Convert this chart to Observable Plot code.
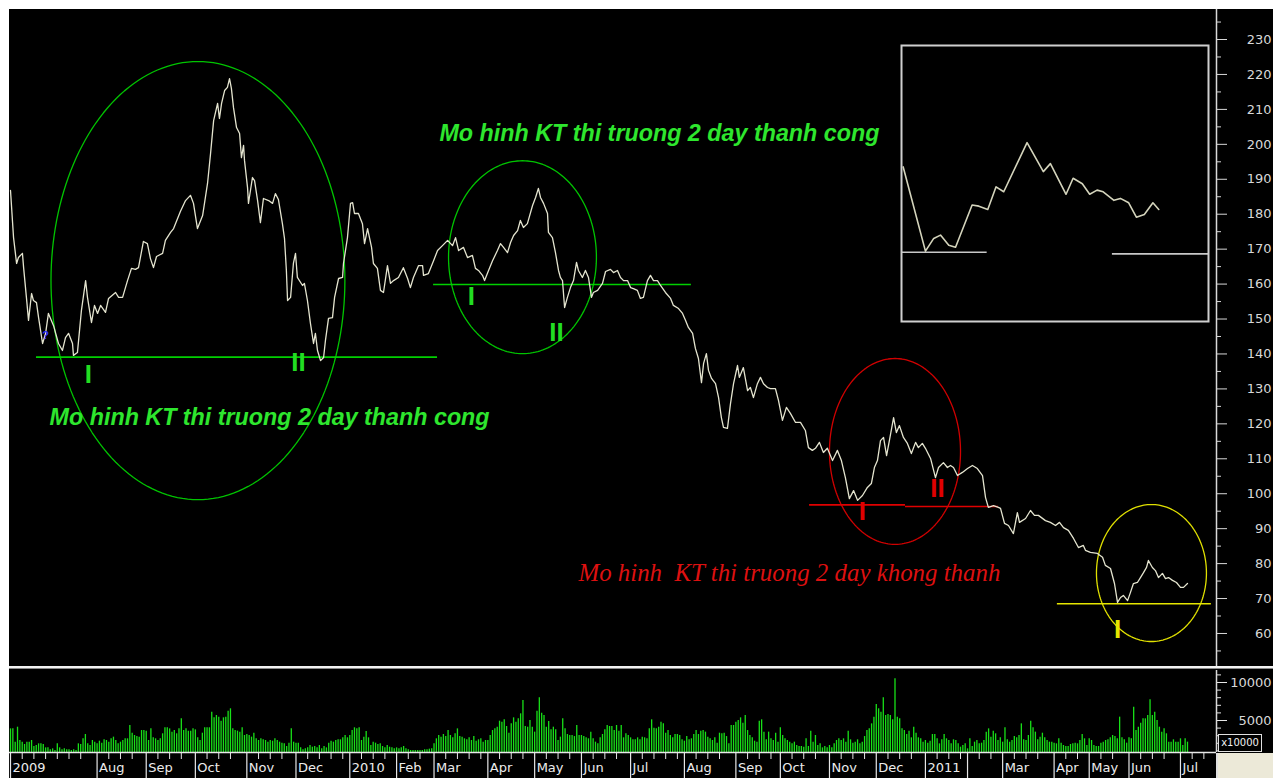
<!DOCTYPE html>
<html><head><meta charset="utf-8">
<script src="https://cdn.jsdelivr.net/npm/d3@7"></script>
<script src="https://cdn.jsdelivr.net/npm/@observablehq/plot@0.6"></script>
<style>
html,body{margin:0;padding:0;background:#fff;overflow:hidden;}
#wrap{position:relative;width:1273px;height:778px;background:#fff;overflow:hidden;}
#wrap > *{position:absolute;}
</style></head><body><div id="wrap"></div>
<script>
// ---------- DATA ----------
// trading-day index of each price vertex and its value
const priceDay = [
0,1.3,2.6,3.4,5.1,5.6,6.8,7.7,9.0,9.8,
11.1,12.0,13.7,15.0,16.2,18.4,20.5,22.2,23.5,24.8,
26.5,26.9,28.6,30.3,32.1,32.9,34.6,35.9,37.2,38.5,
40.6,41.9,44.9,46.2,47.9,50.0,51.7,53.4,54.7,56.8,
58.5,59.8,61.1,62.4,65.0,66.2,68.4,69.7,72.6,74.8,
76.9,78.2,79.9,82.1,84.2,85.5,86.8,88.5,89.3,90.2,
91.5,92.7,93.6,94.4,95.3,96.6,97.9,98.7,99.6,100.0,
101.3,101.7,103.4,104.3,105.6,106.8,108.1,110.3,112.0,113.2,
114.5,116.2,117.1,117.9,118.4,119.7,120.9,121.8,122.6,124.8,
125.6,126.9,128.2,129.5,130.3,131.2,132.5,133.8,134.6,135.9,
137.6,138.5,140.2,141.9,142.3,144.0,145.3,146.2,147.0,148.7,
150.4,151.3,152.6,154.3,155.1,156.8,158.1,159.4,161.1,162.4,
163.7,165.8,167.9,169.7,170.9,172.2,174.4,176.1,176.5,178.6,
180.8,182.5,184.6,186.8,188.9,190.2,191.5,193.6,195.3,197.4,
198.7,200.0,201.7,202.6,204.3,206.0,208.1,209.4,210.7,212.4,
213.7,215.0,216.7,217.9,219.2,220.9,223.1,224.4,225.6,226.5,
227.8,229.5,229.9,231.6,232.9,234.2,235.0,235.9,236.8,238.0,
239.3,240.6,241.9,242.7,244.4,245.7,247.0,248.3,249.1,250.9,
253.0,254.3,256.4,257.7,259.4,260.7,262.0,263.7,265.0,266.2,
267.9,269.2,270.5,272.2,273.5,274.8,276.5,277.8,279.9,282.1,
283.3,285.5,287.2,288.5,289.7,291.5,292.7,294.0,295.3,296.2,
297.4,298.3,299.6,301.3,302.6,303.8,304.7,306.4,307.7,309.0,
310.7,311.5,313.2,315.0,316.2,317.5,319.2,320.5,321.8,323.5,
324.8,326.9,328.2,329.9,331.6,333.3,335.5,337.6,339.7,341.0,
342.7,344.0,345.7,347.4,349.1,351.3,353.4,355.1,356.8,358.5,
360.3,362.0,364.1,366.2,367.9,369.2,370.5,371.8,373.1,374.4,
375.6,377.4,378.6,379.9,381.6,383.3,385.0,386.8,388.0,389.7,
391.0,393.2,395.3,396.6,398.7,400.4,401.7,403.0,404.7,406.8,
409.0,411.1,413.2,415.4,416.7,417.9,420.1,422.2,423.1,424.8,
426.5,428.6,430.3,431.2,433.8,435.9,437.6,439.3,442.3,444.4,
446.6,448.3,450.0,452.1,454.3,456.4,458.5,459.4,461.5,464.5,
466.7,467.9,470.1,471.8,473.1,474.4,475.6,477.4,478.6,479.9,
481.6,482.9,484.2,485.5,486.3,488.0,489.3,490.6,492.3,493.6,
494.9,496.6,498.3,500.0,501.3,503.0];
const priceClose = [
186.8,173.3,165.9,167.6,168.8,164.7,156.2,149.6,157.3,155.3,
154.7,150.4,143.0,145.9,151.6,148.1,143.0,141.0,144.7,145.9,
143.0,139.6,140.4,152.4,161.0,156.2,149.0,153.9,151.6,153.9,
151.9,155.9,157.6,156.2,156.2,161.0,164.5,164.2,164.7,172.2,
171.6,167.3,164.7,167.9,168.8,172.5,174.8,175.9,180.8,183.9,
185.4,183.1,175.9,179.6,188.8,197.4,206.8,211.7,207.4,211.7,
215.4,216.3,218.8,216.0,210.5,204.8,203.1,196.2,199.7,195.4,
187.6,183.1,190.5,189.6,183.9,177.6,184.5,183.9,183.1,185.9,
184.2,177.3,173.0,163.9,155.3,156.2,165.9,168.8,161.9,159.6,
160.2,155.3,148.7,143.0,145.9,141.0,138.1,139.0,143.9,150.2,
150.4,156.2,161.6,161.9,165.9,173.3,183.1,183.3,180.2,180.2,
177.3,171.6,175.9,170.5,165.9,164.5,158.2,157.6,165.3,160.2,
161.0,161.9,164.7,161.6,159.0,161.9,165.3,165.3,162.5,163.0,
166.7,169.6,171.0,172.5,171.0,173.3,169.6,170.5,167.6,168.2,
164.5,163.9,162.5,161.0,163.9,166.7,169.6,171.6,170.5,169.0,
171.9,173.9,175.3,178.2,176.2,177.3,182.5,184.8,187.4,184.8,
183.1,180.2,174.8,173.3,169.0,163.9,161.9,161.0,153.3,156.2,
159.0,161.0,166.2,163.9,161.9,163.9,161.9,156.2,157.6,158.2,
160.2,163.6,164.2,163.3,163.9,161.9,161.0,161.0,159.0,158.7,
158.2,155.9,156.2,161.0,162.5,161.0,161.0,159.6,157.6,155.9,
153.9,153.0,151.6,149.6,147.6,145.9,141.6,138.7,131.8,137.3,
140.1,135.3,133.0,131.5,127.5,121.8,119.0,118.7,125.8,131.5,
136.7,133.3,136.1,129.5,130.4,127.5,131.5,133.3,131.5,130.4,
130.1,130.1,126.7,121.0,124.7,123.0,120.4,120.4,118.1,113.2,
112.4,113.0,114.7,111.8,113.0,109.5,112.4,109.5,104.6,98.6,
100.9,98.1,99.5,101.8,102.9,107.5,109.5,115.2,116.1,110.9,
115.2,121.8,117.5,119.5,116.1,114.4,111.5,114.7,113.2,114.4,
113.0,110.1,104.6,107.5,108.9,107.5,108.1,107.5,105.2,106.1,
107.2,108.1,107.2,105.2,98.9,96.1,96.6,96.1,95.8,91.5,
90.9,88.6,94.6,91.8,92.9,95.2,93.8,93.8,92.3,91.8,
90.9,91.8,90.3,89.5,87.2,84.6,85.2,83.8,83.2,82.9,
81.8,79.5,78.6,74.3,68.9,70.3,70.9,69.4,71.7,74.3,
74.6,76.0,77.4,78.9,80.9,78.9,78.0,76.0,77.2,75.7,
76.0,75.2,74.6,73.2,73.2,74.3];

// daily volume (x10000), one array per month
const volJul09 = [3900,3900,2150,4120,2370,2150,1840,2150,2150,2370,1580,1710,1930,1930,1840,1400,1400,1140,1270,1050,1930,1400,1140,1270,1140,1140,1050,1140,1050,1930,1840,2590,3160,1930,1710,2370,2150];
const volAug09 = [1930,2280,2020,2460,2370,2150,2590,2810,2370,1930,2150,2370,2590,2590,4340,3330,3030,2890,2810,3680,3680];
const volSep09 = [3600,2370,3900,2720,2590,2370,2590,3250,4040,4040,3900,3470,3680,3250,3900,5220,3680,3900,3600,3600,3900];
const volOct09 = [3770,2720,2370,3330,4040,4040,4040,6100,5350,5660,5440,4910,5350,5440,6230,6540,3900,3680,3600,3470,4040,3030];
const volNov09 = [3160,3030,2810,3330,2590,2370,2590,2460,2370,2150,2370,2280,2590,2370,2150,2020,1930,1580,2020,3900,2150];
const volDec09 = [2020,2020,1400,1140,1270,1400,1710,1490,1580,1400,1710,1270,1580,1400,2020,2280,2150,2370,2460,2460,2720,3030,2720];
const volJan10 = [3030,3680,4040,3900,4040,2370,2810,3550,2720,1710,2150,2020,1840,1930,1580,1400,1710,1490,1400,1270];
const volFeb10 = [1400,1270,1400,1580,1270,1140,1050,1050,1050,1050,1050,1050,1140,1140,1230,1270];
const volMar10 = [1930,2590,3030,2810,3160,2890,3680,3030,2720,3250,3900,2890,2810,2590,2460,2720,2370,2890,2280,2460,2590,2150,2370];
const volApr10 = [2370,3030,3680,3900,4120,4910,4780,5090,4210,3330,4560,5350,4780,5220,5880,7630,4210,4120,5000,4120];
const volMay10 = [3470,6230,7980,5970,5660,4120,4870,3770,4120,3770,2370,2810,5220,3900,3160,3030,3030,2890,4340,3030];
const volJun10 = [3030,2890,2720,2590,3470,2590,2150,1930,2720,3160,3770,4340,4210,4210,3680,4340,3600,4340,2720,3250,3030];
const volJul10 = [2720,2460,2460,2720,2460,2810,2720,2590,3900,5090,3990,3900,4120,4780,4560,3330,3680,3030,2720,3160,3160,3030,2460];
const volAug10 = [2280,2890,2460,2590,3160,3680,3160,3600,3680,3470,2810,2590,2370,2720,2020,3330,3250,3330,2890,1930,4340,4340];
const volSep10 = [4780,5000,5350,4650,5660,3680,3030,2720,2280,2150,4910,5090,3470,2460,3470,2590,2370,3330,2150];
const volOct10 = [4040,3030,2590,2370,2150,1930,2150,1710,1580,1580,1490,2590,1580,3600,2150,3030,1710,1930,1400,1580,1400];
const volNov10 = [1710,1400,1930,2370,2590,2370,2590,2150,3600,2460,2020,2150,2460,1930,2150,2890,3680,3900,4560,5440];
const volDec10 = [7110,6540,6100,7980,5660,5790,5660,5090,10480,5440,5220,3900,3680,3160,3600,2720,4120,3330,2720,2590,2150];
const volJan11 = [2370,2020,2280,3160,3160,2590,1930,2460,3160,2590,2370,1930,2460,2370,1930,1490,1710,1930];
const volFeb11 = [1270,2590,1580,2150,2370,1930,2020,2370,3470,3900,2810,3600,3250,2370,2720];
const volMar11 = [2150,4040,2460,2150,2370,2890,2720,3030,4560,2460,2370,3030,4910,4040,3470,2460,2810,3330,2720,2370,2150,2150];
const volApr11 = [2020,1930,2590,2020,1710,1580,1580,1840,1930,2020,1930,2370,3160,2590,1710];
const volMay11 = [2590,2370,1710,1580,1580,2020,2150,2370,2460,2720,3030,2890,2590,5440,2720,2460,2020];
const volJun11 = [2720,2590,6760,3680,4120,4650,5220,5220,5660,7720,5660,6100,5000,4120,3470,3900,3250,2150,2150,2460,2150,2150];
const volJul11 = [2590,1710,2590,2150];

// month boundaries (trading-day index) and labels
const monthStart = [0,37,58,79,101,122,145,165,181,204,224,244,265,288,310,329,350,370,391,409,424,446,461,478,500];
const monthLabel = ["2009","Aug","Sep","Oct","Nov","Dec","2010","Feb","Mar","Apr","May","Jun","Jul","Aug","Sep","Oct","Nov","Dec","2011","","Mar","Apr","May","Jun","Jul"];

// axes ticks
const priceMajor = [60,70,80,90,100,110,120,130,140,150,160,170,180,190,200,210,220,230];
const priceMinor = [55,65,75,85,95,105,115,125,135,145,155,165,175,185,195,205,215,225,235];
const volMajor = [5000,10000];
const volMinor = [1000,2000,3000,4000,6000,7000,8000,9000,11000];

// annotations: ellipses (center day, center price, radius days, radius price)
const ellCx = [80.1,218.8,378.0,487.6];
const ellCy = [161.0,167.7,112.1,77.3];
const ellRx = [62.8,31.6,28.0,23.5];
const ellRy = [62.7,27.6,26.6,19.6];
const ellColor = ["#00c400","#00c400","#d00000","#e0e000"];

// support lines
const supY = [139.1,159.9,96.8,96.35,68.5];
const supX1 = [11.1,180.8,341.5,382.5,447.4];
const supX2 = [182.5,291.0,382.5,422.2,513.2];
const supColor = ["#00d000","#00d000","#e00000","#e00000","#e6e600"];

// bottom markers
const markText = ["I","II","I","II","I","II","I"];
const markDay = [33.3,123.1,197.0,233.3,364.1,396.2,473.1];
const markPrice = [134.1,137.5,156.4,146.1,94.9,101.5,61.0];
const markColor = ["#22dd22","#22dd22","#22dd22","#22dd22","#e00000","#e00000","#e6e600"];

// captions
const capText = ["Mo hinh KT thi truong 2 day thanh cong","Mo hinh KT thi truong 2 day thanh cong","Mo hinh \u00a0KT thi truong 2 day khong thanh"];
const capDay = [16.7,183.3,242.7];
const capPrice = [121.8,203.1,77.4];

// inset pattern
const insetX = [0.55,7.8,10.5,12.7,15.4,17.6,23.0,25.2,28.1,30.8,33.3,40.9,46.2,48.5,53.6,55.9,58.9,61.3,63.7,65.7,69.2,71.3,74.0,76.5,79.1,81.9,83.8];
const insetY = [56.0,25.5,30.1,31.3,27.6,26.9,42.2,41.8,40.6,48.8,47.0,64.8,54.3,57.2,46.1,51.9,49.9,46.1,47.6,47.0,43.9,44.6,43.0,37.8,38.8,43.0,40.6];
const insetLineY = [25.1,24.5];
const insetLineX1 = [0,68.7];
const insetLineX2 = [27.9,100];

// ---------- BUILD ----------
const xDomain = [-0.43, 515.4];
const priceDomain = [50.55, 238.59];
const volDomain = [790, 11579];

const priceData = priceDay.map((d, i) => ({day: d, close: priceClose[i]}));
const volume = [].concat(volJul09,volAug09,volSep09,volOct09,volNov09,volDec09,volJan10,volFeb10,volMar10,volApr10,volMay10,volJun10,volJul10,volAug10,volSep10,volOct10,volNov10,volDec10,volJan11,volFeb11,volMar11,volApr11,volMay11,volJun11,volJul11);
const volData = volume.map((v, i) => ({day: i, vol: v}));

const weekTicks = [];
monthStart.forEach((m, i) => {
  const next = i + 1 < monthStart.length ? monthStart[i + 1] : 516;
  for (let k = m + 5; k < next - 2; k += 5) weekTicks.push(k);
});

function ellipsePoints(k) {
  return d3.range(0, 361, 2).map(a => ({
    day: ellCx[k] + ellRx[k] * Math.cos(a * Math.PI / 180),
    v: ellCy[k] + ellRy[k] * Math.sin(a * Math.PI / 180)
  }));
}

const wrap = document.getElementById("wrap");

const priceMarks = [
  ...ellCx.map((_, k) => Plot.line(ellipsePoints(k), {x: "day", y: "v", stroke: ellColor[k], strokeWidth: 1.3})),
  ...supY.map((_, k) => Plot.ruleY([k], {y: d => supY[d], x1: d => supX1[d], x2: d => supX2[d], stroke: supColor[k], strokeWidth: 1.6})),
  Plot.line(priceData, {x: "day", y: "close", stroke: "#e4e4cf", strokeWidth: 1.3}),
  ...markText.map((_, k) => Plot.text([k], {x: d => markDay[d], y: d => markPrice[d], text: d => markText[d], fill: markColor[k], fontFamily: "Liberation Sans", fontWeight: "bold", fontSize: 26, textAnchor: "middle", lineAnchor: "middle"})),
  Plot.text([0, 1], {x: d => capDay[d], y: d => capPrice[d], text: d => capText[d], fill: "#2ee62e", fontFamily: "Liberation Sans", fontWeight: "bold", fontStyle: "italic", fontSize: 23.3, textAnchor: "start", lineAnchor: "middle"}),
  Plot.text([2], {x: d => capDay[d], y: d => capPrice[d], text: d => capText[d], fill: "#dd1010", fontFamily: "Liberation Serif", fontStyle: "italic", fontSize: 24.9, textAnchor: "start", lineAnchor: "middle"}),
  Plot.text(["?"], {x: [15.0], y: [145.3], text: d => d, fill: "#3030ff", fontFamily: "Liberation Sans", fontWeight: "bold", fontSize: 11, textAnchor: "middle", lineAnchor: "middle"}),
  Plot.ruleX([xDomain[1]], {stroke: "#d8d8d8", strokeWidth: 1.5}),
  Plot.axisY({anchor: "right", ticks: priceMajor, tickSize: 10, tickFormat: () => "", label: null}),
  Plot.axisY({anchor: "right", ticks: priceMinor, tickSize: 4, tickFormat: () => "", label: null}),
  Plot.text(priceMajor, {y: d => d, text: d => String(d), frameAnchor: "right", dx: 55, textAnchor: "end", lineAnchor: "middle", fill: "#d8d8d8", fontFamily: "DejaVu Sans", fontSize: 13})
];

const pricePlot = Plot.plot({
  width: 1264, height: 657,
  marginLeft: 0, marginRight: 57, marginTop: 0, marginBottom: 0,
  x: {domain: xDomain, axis: null, label: null},
  y: {domain: priceDomain, axis: null, label: null},
  style: {background: "#000", color: "#d8d8d8", fontFamily: "DejaVu Sans", fontSize: "13px", overflow: "visible"},
  marks: priceMarks
});
pricePlot.style.left = "9px"; pricePlot.style.top = "9px";
wrap.appendChild(pricePlot);

const sep1 = document.createElement("div");
Object.assign(sep1.style, {left: "9px", top: "666px", width: "1264px", height: "2px", background: "#f2f2f2"});
wrap.appendChild(sep1);
const sep2 = document.createElement("div");
Object.assign(sep2.style, {left: "9px", top: "668px", width: "1264px", height: "1px", background: "#8a8a8a"});
wrap.appendChild(sep2);

const volPlot = Plot.plot({
  width: 1264, height: 109,
  marginLeft: 0, marginRight: 57, marginTop: 1, marginBottom: 26,
  x: {domain: xDomain, axis: null, label: null},
  y: {domain: volDomain, axis: null, label: null},
  style: {background: "#000", color: "#e6e6e6", fontFamily: "DejaVu Sans", fontSize: "13px", overflow: "visible"},
  marks: [
    Plot.ruleX(volData, {x: "day", y1: volDomain[0], y2: "vol", stroke: "#18e018", strokeWidth: 1.3}),
    Plot.ruleY([volDomain[0]], {stroke: "#e8e8e8", strokeWidth: 1.5}),
    Plot.ruleX([xDomain[1]], {stroke: "#d8d8d8", strokeWidth: 1.5}),
    Plot.axisX({anchor: "bottom", ticks: monthStart, tickSize: 26, tickFormat: () => "", strokeWidth: 1.2, label: null}),
    Plot.axisX({anchor: "bottom", ticks: weekTicks, tickSize: 7, tickFormat: () => "", label: null}),
    Plot.text(monthLabel, {x: monthStart, text: d => d, frameAnchor: "bottom", dy: 15, dx: 2, textAnchor: "start", lineAnchor: "middle", fill: "#ececec", fontFamily: "DejaVu Sans", fontSize: 13}),
    Plot.axisY({anchor: "right", ticks: volMajor, tickSize: 10, tickFormat: () => "", label: null}),
    Plot.axisY({anchor: "right", ticks: volMinor, tickSize: 4, tickFormat: () => "", label: null}),
    Plot.text(volMajor, {y: d => d, text: d => String(d), frameAnchor: "right", dx: 55, textAnchor: "end", lineAnchor: "middle", fill: "#d8d8d8", fontFamily: "DejaVu Sans", fontSize: 13})
  ]
});
volPlot.style.left = "9px"; volPlot.style.top = "669px";
wrap.appendChild(volPlot);

const corner = document.createElement("div");
Object.assign(corner.style, {left: "1216px", top: "753px", width: "57px", height: "25px", background: "#ECE9D8", borderLeft: "2px solid #e0e0e0", boxSizing: "border-box"});
wrap.appendChild(corner);

const unitBox = document.createElement("div");
unitBox.textContent = "x10000";
Object.assign(unitBox.style, {left: "1218px", top: "734px", width: "42px", height: "16px", border: "1px solid #e0e0e0", color: "#f0f0f0", background: "#000", fontFamily: "DejaVu Sans", fontSize: "10px", lineHeight: "16px", textAlign: "center"});
wrap.appendChild(unitBox);

const insetData = insetX.map((x, i) => ({x, y: insetY[i]}));
const insetPlot = Plot.plot({
  width: 309, height: 278, margin: 1,
  x: {domain: [0, 100], axis: null},
  y: {domain: [0, 100], axis: null},
  style: {background: "transparent", overflow: "visible"},
  marks: [
    ...insetLineY.map((_, k) => Plot.ruleY([k], {y: d => insetLineY[d], x1: d => insetLineX1[d], x2: d => insetLineX2[d], stroke: "#c8c8c8", strokeWidth: 1.6})),
    Plot.line(insetData, {x: "x", y: "y", stroke: "#d4d4bc", strokeWidth: 1.6}),
    Plot.frame({stroke: "#cfcfcf", strokeWidth: 2})
  ]
});
insetPlot.style.left = "900px"; insetPlot.style.top = "44px";
wrap.appendChild(insetPlot);
</script>
</body></html>
